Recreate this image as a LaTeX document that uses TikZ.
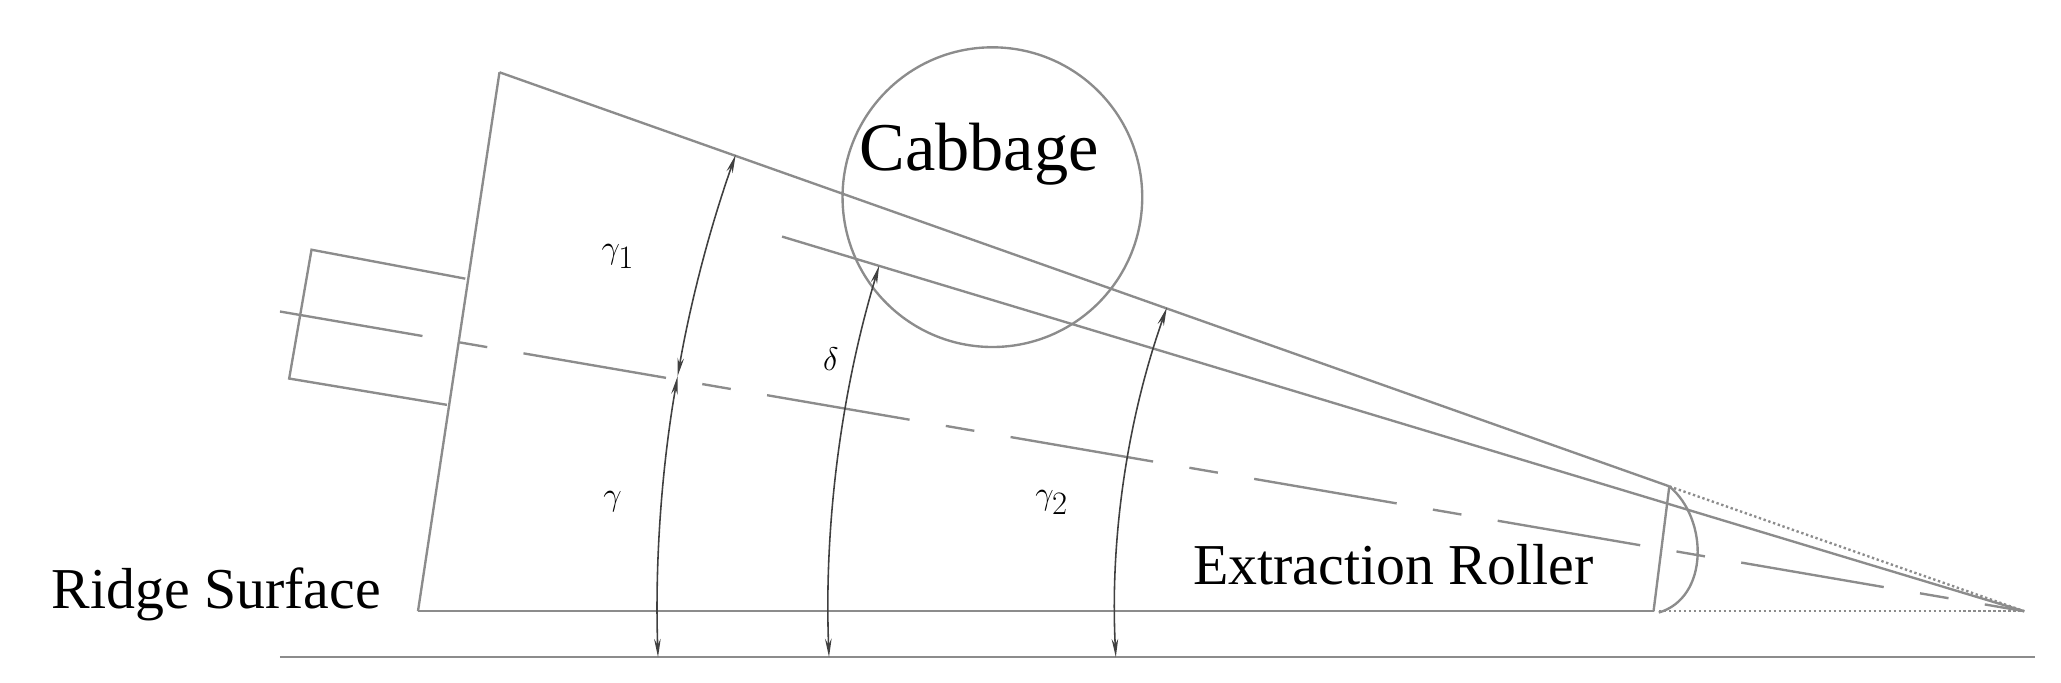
\documentclass[tikz,border=0pt]{standalone}
\usepackage{fontspec}
\setmainfont{Liberation Serif}
\usetikzlibrary{calc,arrows.meta}
\begin{document}
\begin{tikzpicture}[x=1pt,y=1pt,
  ln/.style={draw=black!45,line width=1.8pt},
  dim/.style={draw=black!75,line width=1.2pt,{Stealth[length=14pt,width=5pt]}-{Stealth[length=14pt,width=5pt]}},
  lbl/.style={font=\fontsize{44}{50}\selectfont,inner sep=0pt},
  gr/.style={font=\fontsize{40}{44}\selectfont,inner sep=0pt}]
\useasboundingbox (0,0) rectangle (1568,-519);
\coordinate (A) at (1540,-465);
\coordinate (TL) at (380,-55);
\coordinate (BL) at (318,-465);
\coordinate (RT) at (1270,-370);
\coordinate (RB) at (1258,-465);
% ground lines
\draw[ln] (213,-500) -- (1548,-500);
\draw[ln] (BL) -- (RB);
% cone
\draw[ln] (TL) -- (BL);
\draw[ln] (TL) -- (RT);
\draw[ln] (595,-180) -- (A);
% roller
\draw[ln] (RB) -- (RT);
\draw[ln] (RT) .. controls (1300,-395) and (1300,-455) .. (1262,-466);
\draw[ln,dotted] (RT) -- (A);
\draw[ln,dotted] (1262,-465) -- (A);
% shaft
\draw[ln] (354,-212) -- (237,-190) -- (220,-288) -- (340,-308);
% axis
\draw[ln,dash pattern=on 110pt off 28pt on 22pt off 28pt] (213,-237) -- (A);
% cabbage
\draw[ln] (755,-150) circle (114);
\node[lbl,font=\fontsize{52}{58}\selectfont] (cab) at (745,-117) {Cabbage};
% arcs
\draw[dim] ($(A)+(181.93:1040pt)$) arc[start angle=181.93,end angle=170.1,radius=1040pt];
\draw[dim] ($(A)+(170.1:1040pt)$) arc[start angle=170.1,end angle=160.5,radius=1040pt];
\draw[dim] ($(A)+(182.2:910pt)$) arc[start angle=182.2,end angle=163.2,radius=910pt];
\draw[dim] ($(A)+(182.9:692pt)$) arc[start angle=182.9,end angle=160.5,radius=692pt];
% labels
\node[lbl,anchor=base east] (rs) at (290,-463) {Ridge Surface};
\node[lbl,anchor=base] (er) at (1060,-445) {Extraction Roller};
\node[gr] (g1) at (470,-195) {$\gamma_1$};
\node[gr] (d) at (632,-273) {$\delta$};
\node[gr] (g) at (466,-382) {$\gamma$};
\node[gr] (g2) at (800,-382) {$\gamma_2$};
\end{tikzpicture}
\end{document}
